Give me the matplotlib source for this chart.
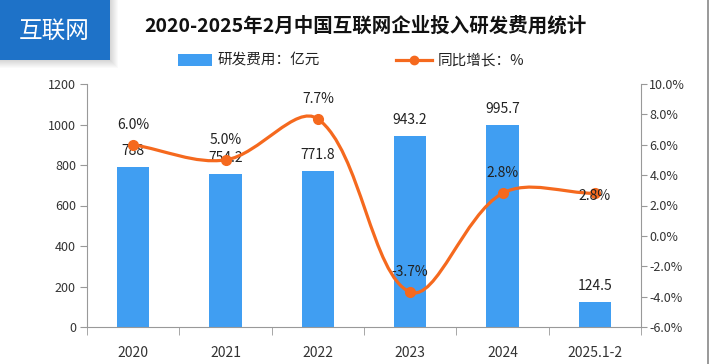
import numpy as np
import matplotlib
matplotlib.use("Agg")
import matplotlib.pyplot as plt
from matplotlib.path import Path
from matplotlib.patches import PathPatch, Rectangle
from matplotlib.lines import Line2D

# ── Fonts ────────────────────────────────────────────────────────────────────
plt.rcParams['font.family'] = ['Noto Sans CJK SC', 'DejaVu Sans']
plt.rcParams['axes.unicode_minus'] = False

# ── Data ─────────────────────────────────────────────────────────────────────
categories = ["2020", "2021", "2022", "2023", "2024", "2025.1-2"]
rd_spend = [788, 754.2, 771.8, 943.2, 995.7, 124.5]
rd_spend_labels = ["788", "754.2", "771.8", "943.2", "995.7", "124.5"]
yoy_growth = [6.0, 5.0, 7.7, -3.7, 2.8, 2.8]
left_ticks = [0, 200, 400, 600, 800, 1000, 1200]
right_ticks = [-6, -4, -2, 0, 2, 4, 6, 8, 10]

title = "2020-2025年2月中国互联网企业投入研发费用统计"
badge_text = "互联网"
bar_name = "研发费用：亿元"
line_name = "同比增长：%"

# ── Colors ───────────────────────────────────────────────────────────────────
BAR_COLOR = "#409EF2"
LINE_COLOR = "#F5691E"
BADGE_COLOR = "#1E72C8"
AXIS_COLOR = "#999999"
TEXT_COLOR = "#222222"

W, H = 710, 364


def fx(px):
    return px / W


def fy(py):
    return 1 - py / H


def _smooth_path(ax, xs, ys, smooth=0.5):
    """Bezier path through the points, control points like echarts smooth."""
    pts = ax.transData.transform(np.column_stack([xs, ys]))
    n = len(pts)
    cps = []
    for i in range(n):
        prev = pts[i - 1] if i > 0 else pts[i]
        nxt = pts[i + 1] if i < n - 1 else pts[i]
        v = nxt - prev
        d0 = np.hypot(*(pts[i] - prev))
        d1 = np.hypot(*(nxt - pts[i]))
        s = d0 + d1
        if s:
            d0, d1 = d0 / s, d1 / s
        cps.append((pts[i] - v * smooth * d0, pts[i] + v * smooth * d1))
    verts = [pts[0]]
    codes = [Path.MOVETO]
    for i in range(n - 1):
        verts += [cps[i][1], cps[i + 1][0], pts[i + 1]]
        codes += [Path.CURVE4] * 3
    verts = ax.transData.inverted().transform(np.array(verts))
    return Path(verts, codes)


fig = plt.figure(figsize=(W / 100, H / 100), dpi=100)
fig.patch.set_facecolor("white")

ax = fig.add_axes([fx(87), fy(327), fx(641) - fx(87), fy(84) - fy(327)])
ax2 = ax.twinx()

x = np.arange(len(categories))

# ── Bars ─────────────────────────────────────────────────────────────────────
ax.bar(x, rd_spend, width=0.35, color=BAR_COLOR, zorder=2)
for xi, v, lab in zip(x, rd_spend, rd_spend_labels):
    ax.annotate(lab, (xi, v), xytext=(0, 16), textcoords="offset pixels",
                ha="center", va="center", fontsize=10, color=TEXT_COLOR,
                zorder=5)

ax.set_xlim(-0.5, len(categories) - 0.5)
ax.set_ylim(0, 1200)
ax.set_yticks(left_ticks)
ax.set_yticklabels([str(t) for t in left_ticks], fontsize=9, color="#333333")

ax.set_xticks(x)
ax.set_xticklabels(categories, fontsize=10, color="#333333")
ax.set_xticks(np.arange(-0.5, len(categories), 1.0), minor=True)
ax.tick_params(axis="x", which="major", length=0, pad=14)
ax.tick_params(axis="x", which="minor", length=6, color=AXIS_COLOR,
               direction="out")
ax.tick_params(axis="y", length=5, color=AXIS_COLOR, pad=3)

for side in ["top", "right"]:
    ax.spines[side].set_visible(False)
for side in ["left", "bottom"]:
    ax.spines[side].set_color(AXIS_COLOR)

# ── Line (right axis) ────────────────────────────────────────────────────────
ax2.set_ylim(-6, 10)
ax2.set_yticks(right_ticks)
ax2.set_yticklabels([f"{t:.1f}%" for t in right_ticks], fontsize=9,
                    color="#333333")
ax2.tick_params(axis="y", length=4, color=AXIS_COLOR, pad=2)
for side in ["top", "left", "bottom"]:
    ax2.spines[side].set_visible(False)
ax2.spines["right"].set_color(AXIS_COLOR)

path = _smooth_path(ax2, x, yoy_growth, smooth=0.35)
ax2.add_patch(PathPatch(path, facecolor="none", edgecolor=LINE_COLOR,
                        linewidth=2.3, zorder=3, capstyle="round"))
ax2.plot(x, yoy_growth, linestyle="none", marker="o", markersize=7,
         color=LINE_COLOR, zorder=4)

for i, (xi, v) in enumerate(zip(x, yoy_growth)):
    dy = -3 if i == len(x) - 1 else 20
    ax2.annotate(f"{v:.1f}%", (xi, v), xytext=(0, dy),
                 textcoords="offset pixels", ha="center", va="center",
                 fontsize=10, color=TEXT_COLOR, zorder=5)

# ── Title & legend ───────────────────────────────────────────────────────────
fig.text(fx(365), fy(26), title, ha="center", va="center", fontsize=14,
         fontweight="bold", color="#111111")

fig.patches.append(Rectangle((fx(178), fy(66)), fx(212) - fx(178),
                             fy(54) - fy(66), transform=fig.transFigure,
                             facecolor=BAR_COLOR, edgecolor="none"))
fig.text(fx(218), fy(60), bar_name, ha="left", va="center", fontsize=10.5,
         color=TEXT_COLOR)
fig.lines.append(Line2D([fx(396), fx(432)], [fy(60), fy(60)],
                        transform=fig.transFigure, color=LINE_COLOR,
                        linewidth=2.3))
fig.lines.append(Line2D([fx(414)], [fy(60)], transform=fig.transFigure,
                        color=LINE_COLOR, marker="o", markersize=6))
fig.text(fx(438), fy(60), line_name, ha="left", va="center", fontsize=10.5,
         color=TEXT_COLOR)

# ── Badge with soft shadow ───────────────────────────────────────────────────
for k in range(8, 0, -1):
    fig.patches.append(Rectangle((0, fy(60 + k)), fx(110 + k), fy(0) - fy(60 + k),
                                 transform=fig.transFigure,
                                 facecolor="#000000", alpha=0.018,
                                 edgecolor="none"))
fig.patches.append(Rectangle((0, fy(60)), fx(110), fy(0) - fy(60),
                             transform=fig.transFigure,
                             facecolor=BADGE_COLOR, edgecolor="none"))
fig.text(fx(54), fy(31), badge_text, ha="center", va="center", fontsize=17,
         color="white")

# right border line
fig.lines.append(Line2D([fx(708), fx(708)], [0, 1], transform=fig.transFigure,
                        color="#888888", linewidth=1.2))

plt.savefig("out.png", dpi=100, facecolor="white")
plt.close(fig)
